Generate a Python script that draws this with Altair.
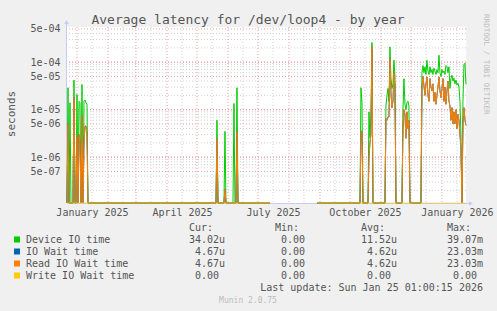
import altair as alt
import pandas as pd

FONT = "DejaVu Sans Mono"
TXT = "#555555"

# ---------------- data ----------------
dates = [
    # first known period (Dec 2024 - Jul 2025)
    "2024-12-22", "2024-12-23", "2024-12-24", "2024-12-25", "2024-12-26", "2024-12-28",
    "2024-12-29", "2024-12-30", "2024-12-31", "2025-01-01", "2025-01-02", "2025-01-03",
    "2025-01-04", "2025-01-05", "2025-01-06", "2025-01-07", "2025-01-08", "2025-01-09",
    "2025-01-10", "2025-01-11", "2025-01-12",
    "2025-05-20", "2025-05-21", "2025-05-22", "2025-05-28", "2025-05-29", "2025-05-30",
    "2025-06-06", "2025-06-07", "2025-06-08", "2025-06-09", "2025-06-10", "2025-06-11",
    "2025-07-13",
    # second known period (Aug 2025 - Jan 2026)
    "2025-08-29", "2025-10-11", "2025-10-12", "2025-10-13", "2025-10-14",
    "2025-10-19", "2025-10-20", "2025-10-21", "2025-10-22", "2025-10-23", "2025-10-24",
    "2025-11-05", "2025-11-06", "2025-11-07", "2025-11-08", "2025-11-09", "2025-11-10",
    "2025-11-11", "2025-11-12", "2025-11-13", "2025-11-14", "2025-11-15", "2025-11-16",
    "2025-11-22", "2025-11-23", "2025-11-24", "2025-11-25", "2025-11-26", "2025-11-27",
    "2025-11-28", "2025-11-29", "2025-11-30", "2025-12-11",
    "2025-12-12", "2025-12-13", "2025-12-14", "2025-12-15", "2025-12-16", "2025-12-17",
    "2025-12-18", "2025-12-19", "2025-12-20", "2025-12-21", "2025-12-22", "2025-12-23",
    "2025-12-24", "2025-12-25", "2025-12-26", "2025-12-27", "2025-12-28", "2025-12-29",
    "2025-12-30", "2025-12-31", "2026-01-01", "2026-01-02", "2026-01-03", "2026-01-04",
    "2026-01-05", "2026-01-06", "2026-01-07", "2026-01-08", "2026-01-09", "2026-01-10",
    "2026-01-11", "2026-01-12", "2026-01-13", "2026-01-14", "2026-01-15", "2026-01-16",
    "2026-01-17", "2026-01-18", "2026-01-19", "2026-01-20", "2026-01-21", "2026-01-22",
    "2026-01-23", "2026-01-24", "2026-01-25",
]

device_io = [
    0, 2.9e-5, 0, 1.4e-5, 0, 0,
    4.2e-5, 0, 0, 2.1e-5, 0, 1.5e-5,
    1.4e-5, 0, 3.4e-5, 0, 1.5e-5, 1.6e-5,
    1.4e-5, 1.3e-5, 0,
    0, 6e-6, 0, 0, 3.5e-6, 0,
    0, 1.35e-5, 0, 0, 2.9e-5, 0,
    0,
    0, 0, 2.9e-5, 1.4e-5, 0,
    0, 9e-6, 2.5e-6, 8e-6, 2.6e-4, 0,
    0, 1.2e-5, 2.0e-5, 2.8e-5, 1.5e-5, 2.1e-4,
    4.5e-5, 2.8e-5, 3.5e-5, 1.1e-4, 5e-5, 0,
    0, 1e-5, 4.5e-5, 1.3e-5, 1e-5, 1.4e-5,
    1.5e-5, 1.2e-5, 0, 0,
    6e-5, 8.5e-5, 6e-5, 8e-5, 5.5e-5, 1.1e-4,
    6.5e-5, 5.5e-5, 8e-5, 6e-5, 7e-5, 5.5e-5,
    7.5e-5, 6.5e-5, 5.5e-5, 7e-5, 6e-5, 1.4e-4,
    6e-5, 5e-5, 7e-5, 6e-5, 6.5e-5, 5.5e-5,
    8.5e-5, 8e-5, 6e-5, 8e-5, 2.8e-5, 4.5e-5,
    5.3e-5, 4e-5, 4.6e-5, 3.5e-5, 4.2e-5, 3.3e-5,
    3.6e-5, 3e-5, 1.5e-5, 3e-6, 0, 1.5e-5,
    9e-5, 9.5e-5, 3.402e-5,
]

read_io_wait = [
    0, 5.1e-6, 0, 0, 0, 0,
    1.8e-5, 0, 0, 2.7e-6, 0, 3e-6,
    2e-6, 0, 7.4e-6, 0, 2e-6, 4.5e-6,
    4.5e-6, 3e-6, 0,
    0, 2.45e-6, 0, 0, 2.1e-7, 0,
    0, 0, 0, 0, 3.5e-6, 0,
    0,
    0, 0, 3.5e-6, 3.5e-6, 0,
    0, 1e-6, 2e-6, 3e-6, 2.1e-4, 0,
    0, 6.5e-6, 6e-6, 7e-6, 7e-6, 1.2e-4,
    2.3e-5, 1.1e-5, 1.5e-5, 6e-5, 3e-5, 0,
    0, 4e-6, 1e-5, 8e-6, 2.5e-6, 9e-6,
    4e-6, 6e-6, 0, 0,
    3e-5, 5e-5, 3.2e-5, 2e-5, 3.5e-5, 4.9e-5,
    2e-5, 1.5e-5, 4.5e-5, 3e-5, 2.5e-5, 3.5e-5,
    1.5e-5, 2.3e-5, 1.3e-5, 2e-5, 3e-5, 4.9e-5,
    2.5e-5, 1.8e-5, 2.8e-5, 4.5e-5, 1.5e-5, 3e-5,
    1.3e-5, 2.5e-5, 4e-5, 1.5e-5, 1.2e-5, 6e-6,
    1.1e-5, 5e-6, 9e-6, 5e-6, 1e-5, 4e-6,
    8e-6, 6e-6, 3e-6, 1.5e-6, 0, 5e-6,
    1.1e-5, 6e-6, 4.67e-6,
]

io_wait = list(read_io_wait)          # identical to read IO wait in the source
write_io_wait = [0.0] * len(dates)    # always zero
first_period_end = "2025-07-13"       # no data between this and 2025-08-29

assert len(dates) == len(device_io) == len(read_io_wait)

series_names = ["Device IO time", "IO Wait time", "Read IO Wait time", "Write IO Wait time"]
series_colors = ["#00CC00", "#0066B3", "#FF8000", "#FFCC00"]
cur_vals = ["34.02u", "4.67u", "4.67u", "0.00"]
min_vals = ["0.00", "0.00", "0.00", "0.00"]
avg_vals = ["11.52u", "4.62u", "4.62u", "0.00"]
max_vals = ["39.07m", "23.03m", "23.03m", "0.00"]

y_labels = [5e-7, 1e-6, 5e-6, 1e-5, 5e-5, 1e-4, 5e-4]

# ---------------- build tables ----------------
rows = []
for name, vals in zip(series_names, [device_io, io_wait, read_io_wait, write_io_wait]):
    for d, v in zip(dates, vals):
        rows.append({"date": d, "series": name, "value": v,
                     "seg": 1 if d <= first_period_end else 2})
df = pd.DataFrame(rows)

W, H = 399, 176
Y_MIN, Y_MAX = 1.085e-7, 5.5e-4

xscale = alt.Scale(domain=[alt.DateTime(year=2024, month=12, date=22),
                           alt.DateTime(year=2026, month=1, date=25, hours=1)])
yscale = alt.Scale(type="log", domain=[Y_MIN, Y_MAX], clamp=True)

X_AX = alt.Axis(title=None, values=[alt.DateTime(year=2025, month=m, date=16) for m in (1, 4, 7, 10)]
                + [alt.DateTime(year=2026, month=1, date=16)],
                format="%B %Y", ticks=False, grid=False, domain=False,
                labelFont=FONT, labelFontSize=10, labelColor=TXT, labelPadding=4,
                labelFlush=False, labelOverlap=False, labelBound=False)
Y_AX = alt.Axis(title=None, values=y_labels,
                labelExpr="replace(format(datum.value, '.0e'), 'e-', 'e-0')",
                ticks=False, grid=False, domain=False,
                labelFont=FONT, labelFontSize=10, labelColor=TXT, labelPadding=7,
                labelFlush=False, labelOverlap=False)

# grid values
minor_y = [k * 10.0 ** e for e in range(-7, -3) for k in (2, 3, 4, 6, 7, 8, 9)
           if Y_MIN <= k * 10.0 ** e <= Y_MAX]
major_y = [v for v in [1e-6, 1e-5, 1e-4] + y_labels if Y_MIN <= v <= Y_MAX]
month_starts = pd.date_range("2025-01-01", "2026-01-01", freq="MS")
mid_months = [d + pd.Timedelta(days=15) for d in pd.date_range("2025-01-01", "2026-01-01", freq="MS")]

def hgrid(vals, color):
    return alt.Chart(pd.DataFrame({"v": vals})).mark_rule(
        color=color, strokeWidth=1, strokeDash=[1, 2]).encode(
        y=alt.Y("v:Q", scale=yscale, axis=Y_AX))

def vgrid(vals, color):
    return alt.Chart(pd.DataFrame({"d": vals})).mark_rule(
        color=color, strokeWidth=1, strokeDash=[1, 2]).encode(
        x=alt.X("d:T", scale=xscale, axis=X_AX))

def series_line(name, color, opacity=1.0):
    return alt.Chart(df).transform_filter(alt.datum.series == name).transform_calculate(
        v="max(datum.value, 1e-12)").mark_line(
        color=color, strokeWidth=1, opacity=opacity).encode(
        x=alt.X("date:T", scale=xscale, axis=X_AX),
        y=alt.Y("v:Q", scale=yscale, axis=Y_AX),
        detail="seg:N")

ONE = alt.Data(values=[{"a": 1}])

def txt(s, x, y, align="left", size=10, color=TXT, angle=0, baseline="alphabetic"):
    return alt.Chart(alt.Data(values=[{"t": s}])).mark_text(
        align=align, baseline=baseline, font=FONT, fontSize=size, color=color,
        angle=angle).encode(text="t:N", x=alt.value(x), y=alt.value(y))

AXC = "#C4CCF4"
axis_lines = [
    alt.Chart(ONE).mark_rule(color=AXC, strokeWidth=1).encode(
        x=alt.value(-0.5), y=alt.value(-4), y2=alt.value(H)),
    alt.Chart(ONE).mark_rule(color=AXC, strokeWidth=1).encode(
        x=alt.value(0), x2=alt.value(W + 4), y=alt.value(H + 0.5)),
    alt.Chart(ONE).mark_point(shape="triangle-up", filled=True, size=22, color=AXC, opacity=1).encode(
        x=alt.value(-0.5), y=alt.value(-5)),
    alt.Chart(ONE).mark_point(shape="triangle-right", filled=True, size=22, color=AXC, opacity=1).encode(
        x=alt.value(W + 5), y=alt.value(H + 0.5)),
]

layers = [
    hgrid(minor_y, "#D2D2D2"),
    vgrid(mid_months, "#D2D2D2"),
    hgrid(major_y, "#EAA0A0"),
    vgrid(month_starts, "#EAA0A0"),
] + axis_lines + [
    series_line("Device IO time", "#00CC00"),
    series_line("IO Wait time", "#0066B3"),
    series_line("Read IO Wait time", "#FF8000"),
    series_line("Write IO Wait time", "#FFCC00", 0.6),
]

OX, OY = 67, 27  # plot origin in the page
# title, axis title, watermark
layers.append(txt("Average latency for /dev/loop4 - by year", 248 - OX, 24 - OY, align="center", size=13))
layers.append(txt("seconds", 15 - OX, 114 - OY, align="center", size=11, angle=270))
layers.append(txt("RRDTOOL / TOBI OETIKER", 484 - OX, 14 - OY, align="left", size=7.6,
                  color="#BEBEBE", angle=90))

# legend table
col_ends = [225, 311, 397, 483]
headers = ["Cur:", "Min:", "Avg:", "Max:"]
for h, ce in zip(headers, col_ends):
    layers.append(txt(h, ce - 12 - OX, 231 - OY, align="right"))
for i, (name, color) in enumerate(zip(series_names, series_colors)):
    yb = 243 + 12 * i
    layers.append(alt.Chart(ONE).mark_square(size=36, color=color, filled=True, opacity=1).encode(
        x=alt.value(17 - OX), y=alt.value(yb - 3.5 - OY)))
    layers.append(txt(name, 26 - OX, yb - OY))
    for vals, ce in zip([cur_vals, min_vals, avg_vals, max_vals], col_ends):
        s = vals[i]
        end = ce if s[-1].isalpha() else ce - 6
        layers.append(txt(s, end - OX, yb - OY, align="right"))

layers.append(txt("Last update: Sun Jan 25 01:00:15 2026", 483 - OX, 291 - OY, align="right"))
layers.append(txt("Munin 2.0.75", 248 - OX, 303 - OY, align="center", size=8, color="#BBBBBB"))

chart = alt.layer(*layers).properties(
    width=W, height=H,
    padding={"left": OX, "top": OY, "right": 497 - OX - W, "bottom": 311 - OY - H},
    autosize=alt.AutoSizeParams(type="none"),
    background="#F0F0F0",
).configure_view(strokeWidth=0, fill="white")

chart.save("out.html", embed_options={"renderer": "svg", "actions": False})
